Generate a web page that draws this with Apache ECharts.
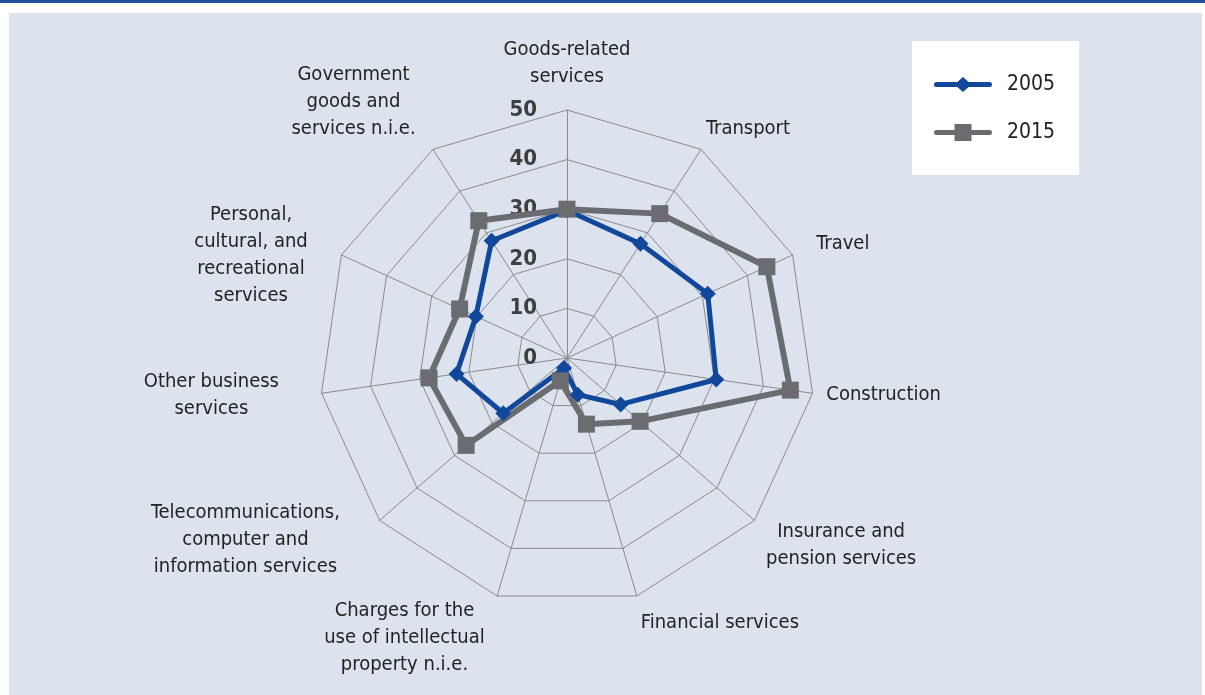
<!DOCTYPE html>
<html>
<head>
<meta charset="utf-8">
<script src="https://cdn.jsdelivr.net/npm/echarts@6/dist/echarts.min.js"></script>
<style>
html, body { margin: 0; padding: 0; background: #fff; }
#chart { width: 1205px; height: 695px; }
</style>
</head>
<body>
<div id="chart"></div>
<script>
// categories clockwise from the top
const categories = [
  'Goods-related\nservices',
  'Transport',
  'Travel',
  'Construction',
  'Insurance and\npension services',
  'Financial services',
  'Charges for the\nuse of intellectual\nproperty n.i.e.',
  'Telecommunications,\ncomputer and\ninformation services',
  'Other business\nservices',
  'Personal,\ncultural, and\nrecreational\nservices',
  'Government\ngoods and\nservices n.i.e.'
]
const values2005 = [29.8, 27.4, 31.2, 30.4, 14.3, 7.7, 2.1, 17.0, 22.5, 20.2, 28.1]
const values2015 = [30.0, 34.6, 44.3, 45.5, 19.5, 13.9, 4.8, 26.9, 28.1, 23.8, 32.9]
const ticks = [0, 10, 20, 30, 40, 50]
const seriesNames = ['2005', '2015']

// where each name sits: align, vertical align, gap, padding
const nameLayout = [
  ['center', 'bottom', 20, 0],
  ['left', 'bottom', 9, 0],
  ['left', 'middle', 26, 0],
  ['left', 'middle', 14, 0],
  ['left', 'middle', 10, [36, 0, 0, 4]],
  ['left', 'top', 14, 0],
  ['right', 'middle', 44, 0],
  ['right', 'middle', 30, [0, 17, 0, 0]],
  ['right', 'middle', 43, [0, 0, 9, 0]],
  ['right', 'middle', 37, [32, 0, 0, 0]],
  ['right', 'bottom', 8, [0, 13, 0, 0]]
]

const font = '"Liberation Sans Narrow", "DejaVu Sans Condensed", "Roboto", sans-serif'
const blue = '#12489b'
const gray = '#6b6c6f'

// echarts lays indicators out counter-clockwise, so walk the list backwards
const n = categories.length
const order = categories.map((_, i) => (n - i) % n)
const pick = (arr) => order.map((k) => arr[k])

const indicator = order.map((k, j) => ({
  name: categories[k],
  min: ticks[0],
  max: ticks[ticks.length - 1],
  nameGap: nameLayout[k][2],
  nameTextStyle: {
    align: nameLayout[k][0],
    verticalAlign: nameLayout[k][1],
    padding: nameLayout[k][3],
  },
  axisLabel: { show: j === 0 },
}))

const diamondIcon = 'path://M0 0M58 20M2.5 7.5H55.5A2.5 2.5 0 0 1 55.5 12.5H2.5A2.5 2.5 0 0 1 2.5 7.5ZM29 2.5L37.5 10L29 17.5L20.5 10Z'
const squareIcon = 'path://M0 0M58 20M2.5 7.5H55.5A2.5 2.5 0 0 1 55.5 12.5H2.5A2.5 2.5 0 0 1 2.5 7.5ZM20.5 1.5H37.5V18.5H20.5Z'

const chart = echarts.init(document.getElementById('chart'))
chart.setOption({
  backgroundColor: '#fff',
  animation: false,
  graphic: [
    { type: 'rect', z: -10, shape: { x: 9, y: 13, width: 1193, height: 682 }, style: { fill: '#dde3ee' } },
    { type: 'rect', z: -10, shape: { x: 0, y: 0, width: 1205, height: 3 }, style: { fill: '#1d4f9c' } },
  ],
  legend: {
    orient: 'vertical',
    left: 912,
    top: 41,
    padding: [33, 24, 32, 22],
    backgroundColor: '#fff',
    itemWidth: 58,
    itemHeight: 20,
    itemGap: 27,
    data: [
      { name: seriesNames[0], icon: diamondIcon },
      { name: seriesNames[1], icon: squareIcon },
    ],
    textStyle: { fontSize: 21, color: '#222', fontFamily: font, padding: [0, 0, 0, 10] },
  },
  radar: {
    center: [567, 358],
    radius: 248,
    startAngle: 90,
    shape: 'polygon',
    splitNumber: ticks.length - 1,
    indicator,
    axisName: {
      color: '#222',
      fontSize: 20,
      fontFamily: font,
      formatter: (name) => name.split('\n').map((l) => '{c|' + l + '}').join('\n'),
      rich: {
        c: { align: 'center', fontSize: 20, lineHeight: 27, fontFamily: font, color: '#222' },
      },
    },
    axisLine: { lineStyle: { color: '#8a8a8a', width: 1 } },
    splitLine: { lineStyle: { color: '#8a8a8a', width: 1 } },
    splitArea: { show: false },
    axisTick: { show: false },
    axisLabel: {
      show: false,
      fontSize: 22,
      fontWeight: 'bold',
      color: '#3f3f3f',
      fontFamily: font,
      margin: 30,
    },
  },
  series: [
    {
      type: 'radar',
      name: seriesNames[0],
      symbol: 'diamond',
      symbolSize: 16,
      lineStyle: { color: blue, width: 5 },
      itemStyle: { color: blue },
      data: [{ value: pick(values2005), name: seriesNames[0] }],
    },
    {
      type: 'radar',
      name: seriesNames[1],
      symbol: 'rect',
      symbolSize: 17,
      lineStyle: { color: gray, width: 6 },
      itemStyle: { color: gray },
      data: [{ value: pick(values2015), name: seriesNames[1] }],
    },
  ],
})
</script>
</body>
</html>
